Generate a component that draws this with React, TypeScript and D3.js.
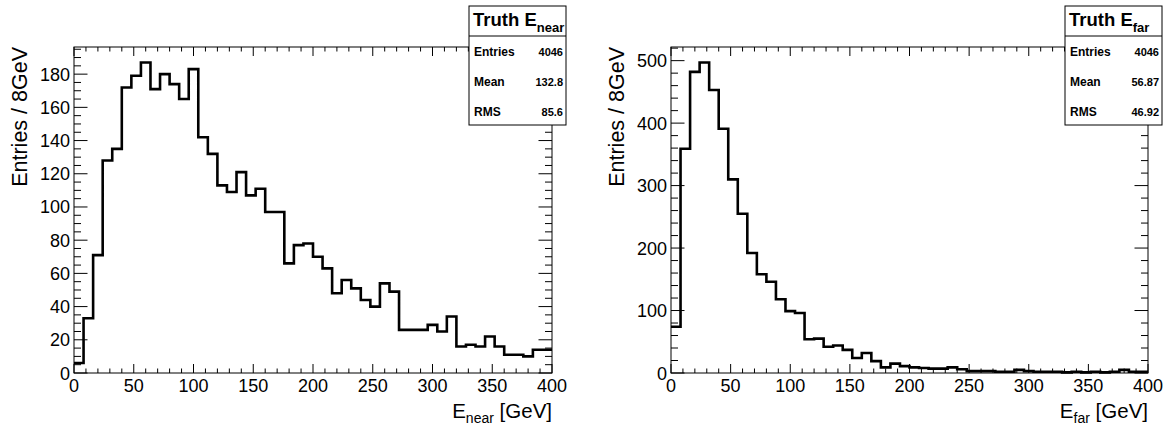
import React from 'react';
import * as d3 from 'd3';

const BIN_WIDTH = 8;
const X_MIN = 0;
const X_MAX = 400;

const nearCounts = [
  6, 33, 71, 128, 135, 172, 179, 187, 171, 180,
  174, 165, 183, 142, 132, 113, 109, 121, 107, 111,
  97, 97, 66, 77, 78, 70, 63, 48, 56, 51,
  44, 40, 54, 49, 26, 26, 26, 29, 25, 34,
  16, 17, 16, 22, 16, 11, 11, 10, 14, 14,
];

const farCounts = [
  74, 359, 482, 497, 453, 391, 310, 255, 192, 158,
  146, 118, 99, 96, 54, 55, 42, 44, 37, 24,
  32, 19, 9, 15, 11, 9, 8, 7, 7, 9,
  6, 3, 3, 3, 2, 2, 5, 3, 2, 2,
  2, 1, 2, 1, 2, 1, 2, 5, 2, 2,
];

const xTickValues = [0, 50, 100, 150, 200, 250, 300, 350, 400];
const nearYTicks = [0, 20, 40, 60, 80, 100, 120, 140, 160, 180];
const farYTicks = [0, 100, 200, 300, 400, 500];
const statLabels = ['Entries', 'Mean', 'RMS'];
const nearStats = ['4046', '132.8', '85.6'];
const farStats = ['4046', '56.87', '46.92'];
const yTitle = 'Entries / 8GeV';

const FONT = "'Liberation Sans', Arial, Helvetica, sans-serif";

type PanelProps = {
  left: number;
  right: number;
  top: number;
  bottom: number;
  counts: number[];
  yTicks: number[];
  yMinorStep: number;
  sub: string;
  stats: string[];
};

function Panel({ left, right, top, bottom, counts, yTicks, yMinorStep, sub, stats }: PanelProps) {
  const yMax = 1.05 * (d3.max(counts) as number);
  const x = d3.scaleLinear().domain([X_MIN, X_MAX]).range([left, right]);
  const y = d3.scaleLinear().domain([0, yMax]).range([bottom, top]);
  const edges = d3.range(X_MIN, X_MAX + BIN_WIDTH / 2, BIN_WIDTH);
  const pts: [number, number][] = [];
  counts.forEach((c, i) => {
    pts.push([edges[i], c]);
    pts.push([edges[i + 1], c]);
  });
  const line = d3
    .line<[number, number]>()
    .x((d) => x(d[0]))
    .y((d) => y(d[1]));

  const xMinor = d3.range(X_MIN, X_MAX + 0.1, 10).filter((v) => v % 50 !== 0);
  const yMinor = d3.range(0, yMax, yMinorStep).filter((v) => !yTicks.includes(v));

  const xMajLen = 9;
  const xMinLen = 4.5;
  const yMajLen = 13.5;
  const yMinLen = 7;

  const boxL = right - 83;
  const boxR = right + 14;
  const boxT = 6;
  const boxB = 125;

  return (
    <g fontFamily={FONT}>
      <rect x={left} y={top} width={right - left} height={bottom - top} fill="none" stroke="#000" strokeWidth={1} />
      {xTickValues.map((v) => (
        <g key={'xM' + v}>
          <line x1={x(v)} x2={x(v)} y1={bottom} y2={bottom - xMajLen} stroke="#000" />
          <line x1={x(v)} x2={x(v)} y1={top} y2={top + xMajLen} stroke="#000" />
        </g>
      ))}
      {xMinor.map((v) => (
        <g key={'xm' + v}>
          <line x1={x(v)} x2={x(v)} y1={bottom} y2={bottom - xMinLen} stroke="#000" />
          <line x1={x(v)} x2={x(v)} y1={top} y2={top + xMinLen} stroke="#000" />
        </g>
      ))}
      {yTicks.map((v) => (
        <g key={'yM' + v}>
          <line x1={left} x2={left + yMajLen} y1={y(v)} y2={y(v)} stroke="#000" />
          <line x1={right} x2={right - yMajLen} y1={y(v)} y2={y(v)} stroke="#000" />
        </g>
      ))}
      {yMinor.map((v) => (
        <g key={'ym' + v}>
          <line x1={left} x2={left + yMinLen} y1={y(v)} y2={y(v)} stroke="#000" />
          <line x1={right} x2={right - yMinLen} y1={y(v)} y2={y(v)} stroke="#000" />
        </g>
      ))}
      {xTickValues.map((v) => (
        <text key={'xl' + v} x={x(v)} y={392} fontSize={18} textAnchor="middle" fill="#000">
          {v}
        </text>
      ))}
      {yTicks.map((v) => (
        <text key={'yl' + v} x={left - 4} y={y(v) + 6.5} fontSize={18} textAnchor="end" fill="#000">
          {v}
        </text>
      ))}
      <path d={line(pts) as string} fill="none" stroke="#000" strokeWidth={2.6} strokeLinejoin="miter" />
      <text x={right} y={418} fontSize={20.5} textAnchor="end" fill="#000">
        E
        <tspan fontSize={14} dy={5}>
          {sub}
        </tspan>
        <tspan dy={-5}> [GeV]</tspan>
      </text>
      <text
        transform={`translate(${left - 47},${top}) rotate(-90)`}
        fontSize={21.5}
        textAnchor="end"
        fill="#000"
      >
        {yTitle}
      </text>
      <rect x={boxL} y={boxT} width={boxR - boxL} height={boxB - boxT} fill="#fff" stroke="#000" strokeWidth={1} />
      <line x1={boxL} x2={boxR} y1={36} y2={36} stroke="#000" />
      <text x={boxL + 4} y={26} fontSize={18.5} fontWeight="bold" fill="#000">
        Truth E
        <tspan fontSize={13} dy={6}>
          {sub}
        </tspan>
      </text>
      {statLabels.map((lab, i) => (
        <g key={lab}>
          <text x={boxL + 5} y={56 + i * 30} fontSize={12} fontWeight="bold" fill="#000">
            {lab}
          </text>
          <text x={boxR - 3} y={56 + i * 30} fontSize={11} fontWeight="bold" textAnchor="end" fill="#000">
            {stats[i]}
          </text>
        </g>
      ))}
    </g>
  );
}

export default function App() {
  return (
    <svg
      width={1174}
      height={430}
      style={{ position: 'absolute', left: 0, top: 0, background: '#fff' }}
    >
      <rect x={0} y={0} width={1174} height={430} fill="#fff" />
      <Panel
        left={74}
        right={552}
        top={47}
        bottom={373}
        counts={nearCounts}
        yTicks={nearYTicks}
        yMinorStep={5}
        sub="near"
        stats={nearStats}
      />
      <Panel
        left={671}
        right={1148}
        top={47}
        bottom={373}
        counts={farCounts}
        yTicks={farYTicks}
        yMinorStep={20}
        sub="far"
        stats={farStats}
      />
    </svg>
  );
}
